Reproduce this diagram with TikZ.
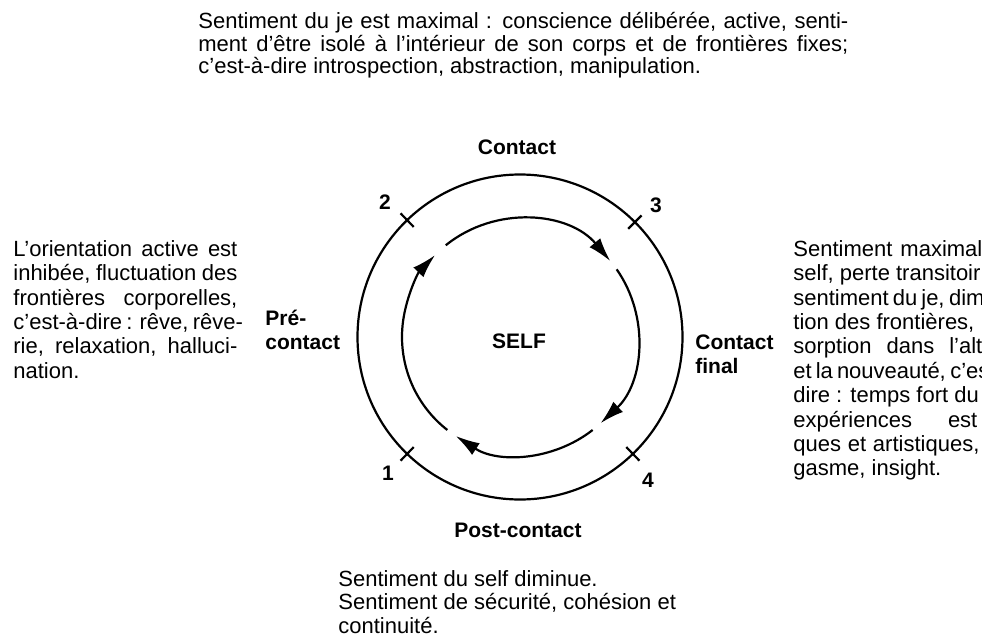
\documentclass[tikz,border=0pt]{standalone}
\usepackage{fontspec}
\setmainfont{Liberation Sans}
\usetikzlibrary{arrows.meta}
% one justified line of a column
\newcommand{\jl}[2][112pt]{\makebox[#1][s]{#2}}
\tikzset{
  txt/.style ={inner sep=0pt, anchor=north west, align=left, font=\fontsize{11}{12.2}\selectfont},
  lbl/.style ={inner sep=0pt, font=\fontsize{10.5}{12}\selectfont\bfseries},
  ring/.style={line width=1.1pt},
  cyc/.style ={line width=1.1pt, -{Latex[length=12pt,width=7pt]}},
}
\begin{document}
\begin{tikzpicture}[x=0.5pt,y=-0.5pt]
  \useasboundingbox (0,0) rectangle (982,643);
  \coordinate (C) at (520,337);
  % outer ring and the four moments
  \draw[ring] (C) circle[radius=81.25pt];
  \foreach \a in {134,45,226,-46}
    \draw[ring] ([shift={(\a:76.5pt)}]C) -- ([shift={(\a:86pt)}]C);
  % inner cycle
  \foreach \s/\e in {129/40, 35/-47, -52/-123, 232/136}
    \draw[cyc] ([shift={(\s:59pt)}]C) arc[start angle=\s, end angle=\e, radius=59pt];

  \node[lbl] (self) at (519,341) {SELF};
  \node[lbl] (cont) at (517,147) {Contact};
  \node[lbl] (post) at (518,530) {Post-contact};
  \node[lbl, anchor=north west, align=left] (prec) at (265,310) {Pré-\\contact};
  \node[lbl, anchor=north west, align=left] (finc) at (695,334) {Contact\\final};
  \node[lbl] (m1) at (388,473) {1};
  \node[lbl] (m2) at (385,202) {2};
  \node[lbl] (m3) at (656,205) {3};
  \node[lbl] (m4) at (648,480) {4};

  % texts round the cycle
  \node[txt, font=\fontsize{11}{11.3}\selectfont] (je) at (198,12)
    {\jl[325pt]{Sentiment du je est maximal : conscience délibérée, active, senti-}\\
     \jl[325pt]{ment d'être isolé à l'intérieur de son corps et de frontières fixes;}\\
     c'est-à-dire introspection, abstraction, manipulation.};
  \node[txt] (txpre) at (13,240)
    {\jl{L'orientation active est}\\
     \jl{inhibée, fluctuation des}\\
     \jl{frontières corporelles,}\\
     \jl{c'est-à-dire : rêve, rêve-}\\
     \jl{rie, relaxation, halluci-}\\
     nation.};
  \node[txt] (txfin) at (793,240)
    {\jl[94.5pt]{Sentiment maximal}\\
     self, perte transitoir\\
     \jl[94pt]{sentiment du je, dim}\\
     tion des frontières,\\
     \jl[94.5pt]{sorption dans l'alt}\\
     \jl[94pt]{et la nouveauté, c'es}\\
     dire : temps fort du\\
     \jl[92pt]{expériences est}\\
     \jl[93pt]{ques et artistiques,}\\
     gasme, insight.};
  \node[txt, font=\fontsize{11}{11.75}\selectfont] (txpost) at (338,570)
    {Sentiment du self diminue.\\
     Sentiment de sécurité, cohésion et\\
     continuité.};
\end{tikzpicture}
\end{document}
